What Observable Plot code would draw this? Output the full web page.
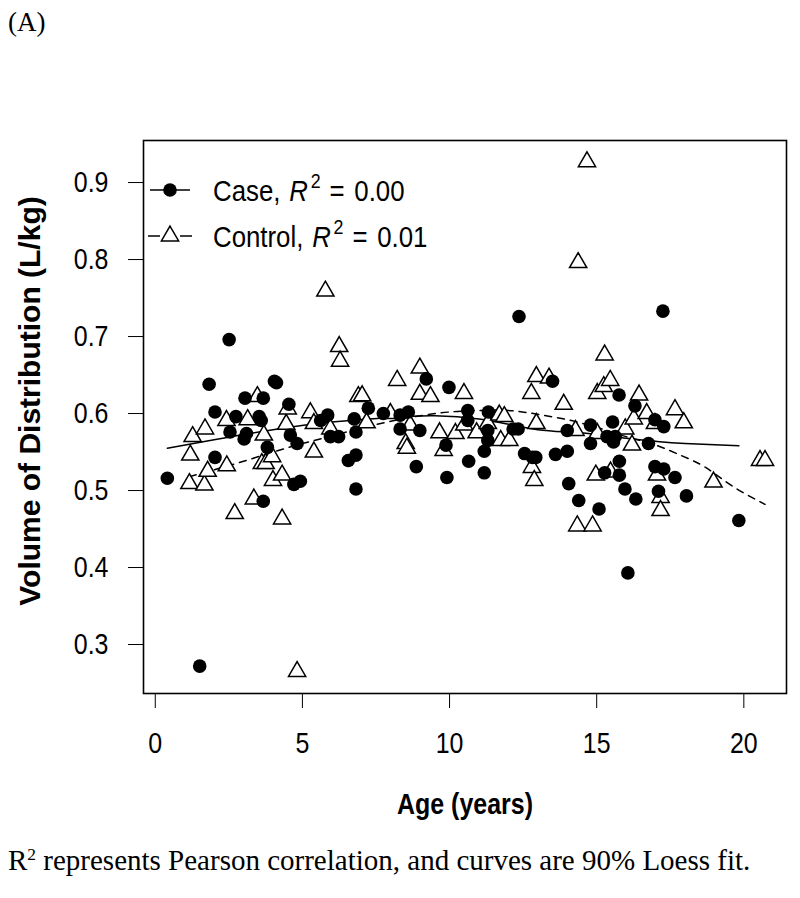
<!DOCTYPE html>
<html><head><meta charset="utf-8">
<script src="https://cdn.jsdelivr.net/npm/d3@7"></script>
<script src="https://cdn.jsdelivr.net/npm/@observablehq/plot@0.6"></script>
<style>
html,body{margin:0;padding:0;background:#fff}
body{width:800px;height:898px;position:relative;overflow:hidden}
#panel{position:absolute;left:8px;top:9px;z-index:3;font-family:"Liberation Serif","Times New Roman",serif;font-size:27px;line-height:1}
#chart{position:absolute;left:0;top:0;z-index:1}
#legend{position:absolute;left:0;top:0;z-index:2}
#caption{position:absolute;left:8px;top:846px;z-index:3;font-family:"Liberation Serif","Times New Roman",serif;font-size:29px;line-height:1;white-space:nowrap}
#caption sup{font-size:0.6em;vertical-align:0.6em;line-height:0}
</style></head><body>
<div id="panel">(A)</div>
<div id="chart"></div>
<div id="caption">R<sup>2</sup> represents Pearson correlation, and curves are 90% Loess fit.</div>
<script>
// ---- data ----
const caseAge = [0.41,1.51,1.83,2.03,2.03,2.51,2.54,2.74,3.02,3.05,3.10,3.53,3.60,3.67,3.67,3.81,4.05,4.12,4.54,4.59,4.71,4.82,4.93,5.62,5.86,5.95,6.23,6.56,6.76,6.82,6.82,6.82,7.24,7.75,8.32,8.32,8.60,8.87,8.99,9.21,9.88,9.91,9.98,10.62,10.62,10.65,11.18,11.18,11.30,11.30,11.32,12.16,12.33,12.36,12.55,12.82,12.93,13.50,13.60,14.00,14.00,14.05,14.39,14.79,14.79,15.08,15.27,15.35,15.54,15.57,15.63,15.76,15.77,15.77,15.96,16.06,16.30,16.33,16.76,16.98,16.98,17.10,17.25,17.28,17.28,17.66,18.05,19.83];
const caseVd  = [0.516,0.272,0.638,0.602,0.543,0.696,0.576,0.596,0.567,0.620,0.574,0.596,0.591,0.620,0.486,0.556,0.642,0.640,0.612,0.572,0.508,0.561,0.512,0.591,0.598,0.570,0.570,0.539,0.593,0.576,0.546,0.502,0.607,0.600,0.598,0.580,0.602,0.531,0.578,0.645,0.559,0.517,0.634,0.604,0.591,0.538,0.551,0.523,0.578,0.565,0.602,0.580,0.580,0.726,0.548,0.543,0.543,0.642,0.547,0.578,0.551,0.509,0.487,0.585,0.561,0.476,0.523,0.570,0.589,0.563,0.570,0.624,0.538,0.520,0.502,0.393,0.610,0.489,0.561,0.592,0.531,0.499,0.733,0.583,0.528,0.517,0.493,0.461];
const controlAge = [1.16,1.19,1.27,1.67,1.69,1.78,2.42,2.43,2.70,3.14,3.35,3.47,3.62,3.69,3.75,3.97,4.00,4.31,4.31,4.45,4.50,4.82,5.27,5.39,5.39,5.78,5.95,6.25,6.28,6.90,7.03,7.18,7.99,8.22,8.51,8.55,8.66,8.99,8.99,9.35,9.66,9.80,10.20,10.49,10.50,10.92,11.30,11.69,11.86,11.74,12.03,12.78,12.80,12.88,12.95,12.95,13.38,13.88,14.28,14.34,14.37,14.67,14.86,14.97,15.02,15.02,15.24,15.27,15.46,15.47,15.97,16.20,16.26,16.44,16.70,16.98,17.05,17.17,17.17,17.66,17.96,18.97,20.55,20.72];
const controlVd  = [0.509,0.546,0.570,0.507,0.580,0.525,0.591,0.532,0.470,0.592,0.489,0.622,0.535,0.572,0.535,0.544,0.513,0.520,0.463,0.586,0.606,0.265,0.601,0.587,0.550,0.759,0.580,0.687,0.668,0.622,0.623,0.588,0.600,0.643,0.561,0.555,0.585,0.659,0.625,0.622,0.575,0.552,0.574,0.626,0.585,0.575,0.587,0.598,0.596,0.565,0.565,0.626,0.530,0.513,0.648,0.587,0.646,0.612,0.578,0.454,0.796,0.927,0.454,0.520,0.626,0.574,0.635,0.676,0.643,0.524,0.580,0.559,0.593,0.624,0.600,0.587,0.520,0.491,0.474,0.605,0.588,0.511,0.539,0.539];
// loess curves
const caseFitAge = [0.41,2,4,6,8,9.5,11,12,13,14,15,16,17,18,19.83];
const caseFitVd  = [0.555,0.566,0.579,0.589,0.595,0.597,0.593,0.586,0.579,0.576,0.573,0.568,0.564,0.561,0.558];
const controlFitAge = [1.16,2,3,4,5,6,7,8,9,10,11,12,13,14,15,16,17,17.9,18.7,19.6,20.72];
const controlFitVd  = [0.518,0.527,0.538,0.550,0.561,0.571,0.581,0.590,0.597,0.602,0.604,0.604,0.599,0.592,0.582,0.570,0.559,0.545,0.530,0.506,0.482];
const xTicks = [0,5,10,15,20];
const yTicks = [0.3,0.4,0.5,0.6,0.7,0.8,0.9];
const xLabel = "Age (years)";
const yLabel = "Volume of Distribution (L/kg)";
const legendNames = ["Case", "Control"];
const legendR2 = ["0.00", "0.01"];

// ---- tables for the library ----
const cases = caseAge.map((a,i)=>({age:a, vd:caseVd[i]}));
const controls = controlAge.map((a,i)=>({age:a, vd:controlVd[i]}));
const caseFit = caseFitAge.map((a,i)=>({age:a, vd:caseFitVd[i]}));
const controlFit = controlFitAge.map((a,i)=>({age:a, vd:controlFitVd[i]}));

const W = 800, H = 835;
const FONT = "'Liberation Sans', Arial, sans-serif";
const chart = Plot.plot({
  width: W, height: H,
  marginLeft: 143, marginRight: 14, marginTop: 140, marginBottom: H - 693,
  style: {fontFamily: FONT, fontSize: "29px", background: "transparent", color: "black", overflow: "visible"},
  x: {domain: [-0.40, 21.45], ticks: xTicks, tickSize: 15, tickPadding: 24, tickFormat: d => String(d), label: null},
  y: {domain: [0.2364, 0.9546], ticks: yTicks, tickSize: 15, tickPadding: 20, tickFormat: d3.format(".1f"), label: null},
  marks: [
    Plot.line(caseFit, {x: "age", y: "vd", stroke: "black", strokeWidth: 1.5, curve: "natural"}),
    Plot.line(controlFit, {x: "age", y: "vd", stroke: "black", strokeWidth: 1.5, strokeDasharray: "7,6", curve: "natural"}),
    Plot.dot(controls, {x: "age", y: "vd", symbol: "triangle", r: 6.4, stroke: "black", fill: "white", strokeWidth: 1.5}),
    Plot.dot(cases, {x: "age", y: "vd", r: 6.8, fill: "black", stroke: "none"}),
    Plot.frame({stroke: "black", strokeWidth: 1.6}),
    Plot.text([xLabel], {text: d => d, frameAnchor: "bottom", dy: 120, fontWeight: "bold"}),
    Plot.text([yLabel], {text: d => d, frameAnchor: "left", textAnchor: "middle", dx: -113, dy: -16, rotate: -90, fontWeight: "bold", fontSize: 30, className: "ylab"})
  ]
});
document.getElementById("chart").appendChild(chart);
chart.querySelectorAll("[aria-label$='axis'] path, [aria-label$='axis'] line").forEach(e => e.setAttribute("stroke-width", "1.5"));

// narrow the horizontal sans-serif text like the reference rendering
chart.querySelectorAll("text").forEach(t => {
  if (t.closest(".ylab")) return;
  const L = t.getComputedTextLength();
  t.setAttribute("textLength", (L*0.86).toFixed(1));
  t.setAttribute("lengthAdjust", "spacingAndGlyphs");
});

// ---- legend (inside the plot box, top-left) ----
const lg = d3.select("body").append("svg").attr("id", "legend").attr("width", W).attr("height", 300)
  .style("font-family", FONT).style("font-size", "29px");
const rows = legendNames.map((n,i)=>({name:n, r2:legendR2[i], y: 190 + i*46, dashed: i===1}));
rows.forEach(r => {
  const g = lg.append("g");
  if (r.dashed) {
    g.append("line").attr("x1",148).attr("x2",160).attr("y1",r.y).attr("y2",r.y).attr("stroke","black").attr("stroke-width",1.5);
    g.append("line").attr("x1",180).attr("x2",192).attr("y1",r.y).attr("y2",r.y).attr("stroke","black").attr("stroke-width",1.5);
    g.append("path").attr("d", d3.symbol(d3.symbolTriangle, Math.PI*6.4*6.4)()).attr("transform",`translate(170,${r.y})`)
      .attr("fill","white").attr("stroke","black").attr("stroke-width",1.5);
  } else {
    g.append("line").attr("x1",150).attr("x2",190).attr("y1",r.y).attr("y2",r.y).attr("stroke","black").attr("stroke-width",1.5);
    g.append("circle").attr("cx",170).attr("cy",r.y).attr("r",6.8).attr("fill","black");
  }
  const t = g.append("text").attr("x",0).attr("y",0)
    .attr("transform", `translate(213,${r.y+11}) scale(0.89,1)`);
  t.append("tspan").text(r.name + ", ");
  t.append("tspan").attr("font-style","italic").attr("dx",2).text("R");
  t.append("tspan").attr("font-size","20px").attr("dy",-13).attr("dx",3).text("2");
  t.append("tspan").attr("dy",13).attr("dx",10).text("=");
  t.append("tspan").attr("dx",11).text(r.r2);
});
</script>
</body></html>
